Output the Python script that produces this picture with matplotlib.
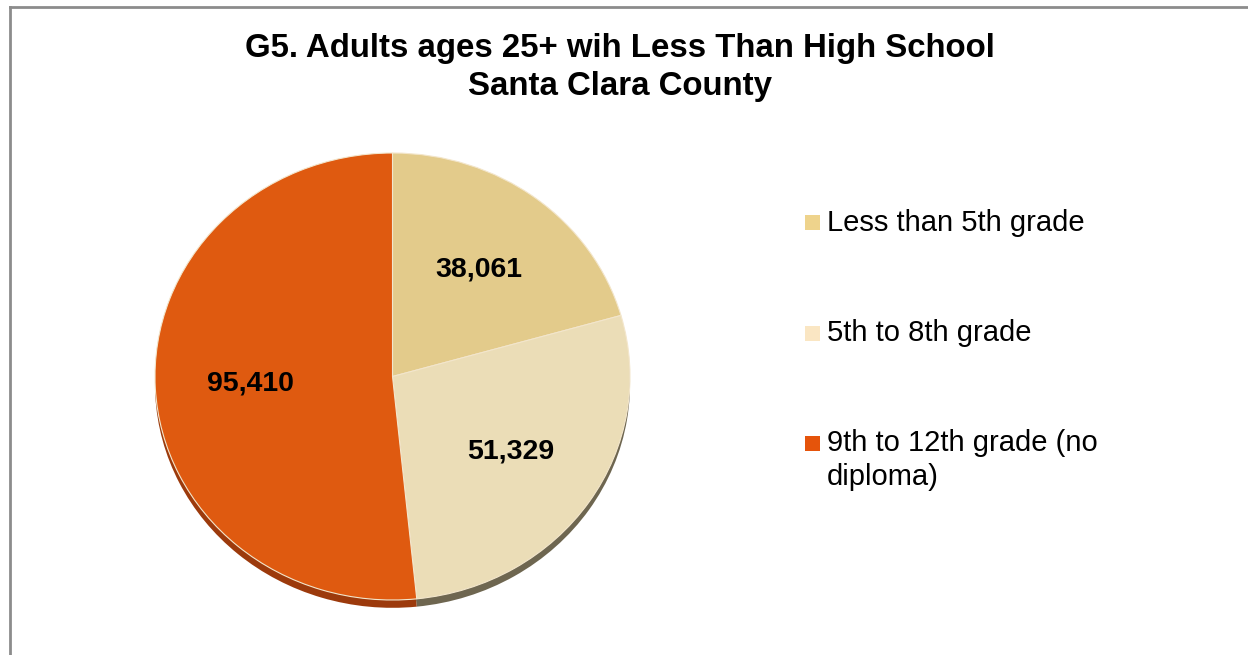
import textwrap
import numpy as np
import matplotlib
matplotlib.use("Agg")
import matplotlib.pyplot as plt
from matplotlib.patches import Rectangle
from matplotlib.lines import Line2D

plt.rcParams["font.family"] = ["Liberation Sans", "DejaVu Sans"]

# Education attainment below high school, adults 25+
categories = ["Less than 5th grade", "5th to 8th grade", "9th to 12th grade (no diploma)"]
values = [38061, 51329, 95410]
title_lines = ["G5. Adults ages 25+ wih Less Than High School", "Santa Clara County"]

pie_colors = ["#E3CB8B", "#EBDDB7", "#DF5A10"]
side_colors = ["#7A6A45", "#6E6650", "#9C3A0C"]
legend_colors = ["#EED38C", "#FAE6C3", "#E5540B"]

W, H = 1248, 655
fig = plt.figure(figsize=(W / 100, H / 100), dpi=100)
fig.patch.set_facecolor("white")

# Chart-area frame (left and top edges visible)
frame_kw = dict(color="#8C8C8C", lw=2.0, transform=fig.transFigure)
fig.add_artist(Line2D([9.5 / W, 9.5 / W], [0, 1 - 6.5 / H], **frame_kw))
fig.add_artist(Line2D([9.5 / W, 1], [1 - 6.5 / H, 1 - 6.5 / H], **frame_kw))

# Pie axes: slightly flattened ellipse for a tilted look
cx, cy = 392.5, 376.5
rx, ry = 237.5, 223.5
lim = 1.1
ax = fig.add_axes([(cx - lim * rx) / W, (H - cy - lim * ry) / H,
                   2 * lim * rx / W, 2 * lim * ry / H])

# Depth band under the pie
ax.pie(values, colors=side_colors, startangle=90, counterclock=False,
       radius=1.0, center=(0, -0.035), frame=True,
       wedgeprops=dict(linewidth=0))
wedges, _ = ax.pie(values, colors=pie_colors, startangle=90, counterclock=False,
                   radius=1.0, center=(0, 0), frame=True,
                   wedgeprops=dict(linewidth=0.8, edgecolor="#F3E6CC"))
ax.set_aspect("auto")
ax.set_xlim(-lim, lim)
ax.set_ylim(-lim, lim)
ax.axis("off")

for w, v in zip(wedges, values):
    mid = np.deg2rad((w.theta1 + w.theta2) / 2)
    r = 0.6
    ax.text(r * np.cos(mid), r * np.sin(mid), f"{v:,}", ha="center", va="center",
            fontsize=20.5, fontweight="bold", color="black")

# Title
fig.text(620 / W, 1 - 48 / H, title_lines[0], ha="center", va="center",
         fontsize=23.8, fontweight="bold")
fig.text(620 / W, 1 - 86 / H, title_lines[1], ha="center", va="center",
         fontsize=23.8, fontweight="bold")

# Legend
leg_y = [223, 333, 443]
line_gap = 34
for cat, col, y in zip(categories, legend_colors, leg_y):
    fig.add_artist(Rectangle((805 / W, 1 - (y + 7.5) / H), 15 / W, 15 / H,
                             transform=fig.transFigure, facecolor=col,
                             edgecolor="none"))
    lines = textwrap.wrap(cat, width=22)
    for i, ln in enumerate(lines):
        fig.text(827 / W, 1 - (y + i * line_gap) / H, ln, ha="left",
                 va="center", fontsize=21)

fig.savefig("out.png", dpi=100, facecolor="white")
